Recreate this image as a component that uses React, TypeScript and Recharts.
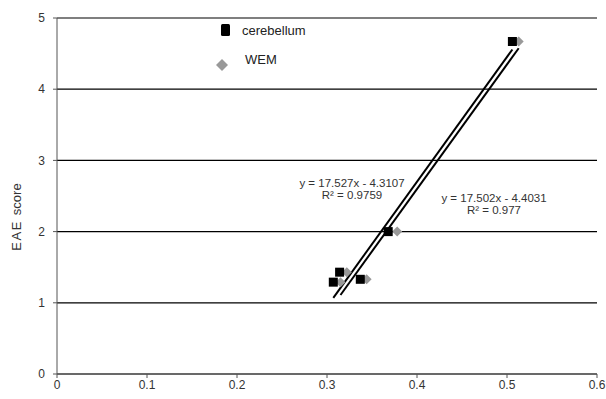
import { CartesianGrid, ReferenceLine, Scatter, ScatterChart, XAxis, YAxis } from 'recharts';

// EAE score vs. tissue value, two tissues
const cerebellum = [
  { x: 0.506, y: 4.67 },
  { x: 0.368, y: 2.0 },
  { x: 0.337, y: 1.33 },
  { x: 0.314, y: 1.43 },
  { x: 0.307, y: 1.29 },
];

const wem = [
  { x: 0.513, y: 4.67 },
  { x: 0.378, y: 2.0 },
  { x: 0.344, y: 1.33 },
  { x: 0.322, y: 1.43 },
  { x: 0.315, y: 1.29 },
];

// linear fits (slope, intercept, R²) over each series' x range
const cerebellumFit = { slope: 17.527, intercept: -4.3107, r2: 0.9759, from: 0.307, to: 0.506 };
const wemFit = { slope: 17.502, intercept: -4.4031, r2: 0.977, from: 0.315, to: 0.513 };

const xTicks = [0, 0.1, 0.2, 0.3, 0.4, 0.5, 0.6];
const yTicks = [0, 1, 2, 3, 4, 5];

const FONT = '"Liberation Sans", Arial, sans-serif';

const fitSegment = (fit: typeof cerebellumFit) => [
  { x: fit.from, y: fit.slope * fit.from + fit.intercept },
  { x: fit.to, y: fit.slope * fit.to + fit.intercept },
];

const fitLabel = (fit: typeof cerebellumFit) =>
  `y = ${fit.slope}x - ${Math.abs(fit.intercept)}`;

const SquareMark = (props: any) => {
  const { cx, cy } = props;
  return <rect x={cx - 4.5} y={cy - 4.5} width={9} height={9} fill="#000" />;
};

const DiamondMark = (props: any) => {
  const { cx, cy } = props;
  const r = 5;
  return (
    <polygon
      points={`${cx},${cy - r} ${cx + r},${cy} ${cx},${cy + r} ${cx - r},${cy}`}
      fill="#999"
    />
  );
};

export default function App() {
  return (
    <div style={{ width: 606, height: 399, fontFamily: FONT, background: '#fff' }}>
      <style>{'body{margin:0}'}</style>
      <ScatterChart width={606} height={399} margin={{ top: 18, right: 9, bottom: 0, left: 0 }}>
        <CartesianGrid vertical={false} stroke="#000" strokeWidth={1.2} />
        <XAxis
          type="number"
          dataKey="x"
          domain={[0, 0.6]}
          ticks={xTicks}
          interval={0}
          height={25}
          tickSize={4}
          tickMargin={2}
          stroke="#555"
          tick={{ fill: '#333', fontSize: 12 }}
        />
        <YAxis
          type="number"
          dataKey="y"
          domain={[0, 5]}
          ticks={yTicks}
          interval={0}
          width={57}
          tickSize={4}
          tickMargin={8}
          stroke="#555"
          tick={{ fill: '#333', fontSize: 12 }}
        />
        <Scatter name="WEM" data={wem} shape={DiamondMark} isAnimationActive={false} />
        <Scatter name="cerebellum" data={cerebellum} shape={SquareMark} isAnimationActive={false} />
        <ReferenceLine segment={fitSegment(cerebellumFit)} stroke="#000" strokeWidth={2} />
        <ReferenceLine segment={fitSegment(wemFit)} stroke="#000" strokeWidth={2} />

        {/* axis title */}
        <text
          x={21}
          y={217}
          transform="rotate(-90 21 217)"
          textAnchor="middle"
          fontSize={13}
          fill="#333"
        >
          <tspan letterSpacing={1.5}>EAE</tspan>
          <tspan dx={5}>score</tspan>
        </text>

        {/* legend */}
        <rect x={221} y={24} width={9} height={12} rx={1.5} fill="#000" />
        <text x={242} y={35} fontSize={13} fill="#222">
          cerebellum
        </text>
        <polygon points="222,59 228,65 222,71 216,65" fill="#999" />
        <text x={245} y={64} fontSize={13} fill="#222">
          WEM
        </text>

        {/* fit equations */}
        <text x={352} y={187} textAnchor="middle" fontSize={11.5} fill="#333">
          {fitLabel(cerebellumFit)}
        </text>
        <text x={352} y={199} textAnchor="middle" fontSize={11.5} fill="#333">
          {`R² = ${cerebellumFit.r2}`}
        </text>
        <text x={494} y={202} textAnchor="middle" fontSize={11.5} fill="#333">
          {fitLabel(wemFit)}
        </text>
        <text x={494} y={214} textAnchor="middle" fontSize={11.5} fill="#333">
          {`R² = ${wemFit.r2}`}
        </text>
      </ScatterChart>
    </div>
  );
}
